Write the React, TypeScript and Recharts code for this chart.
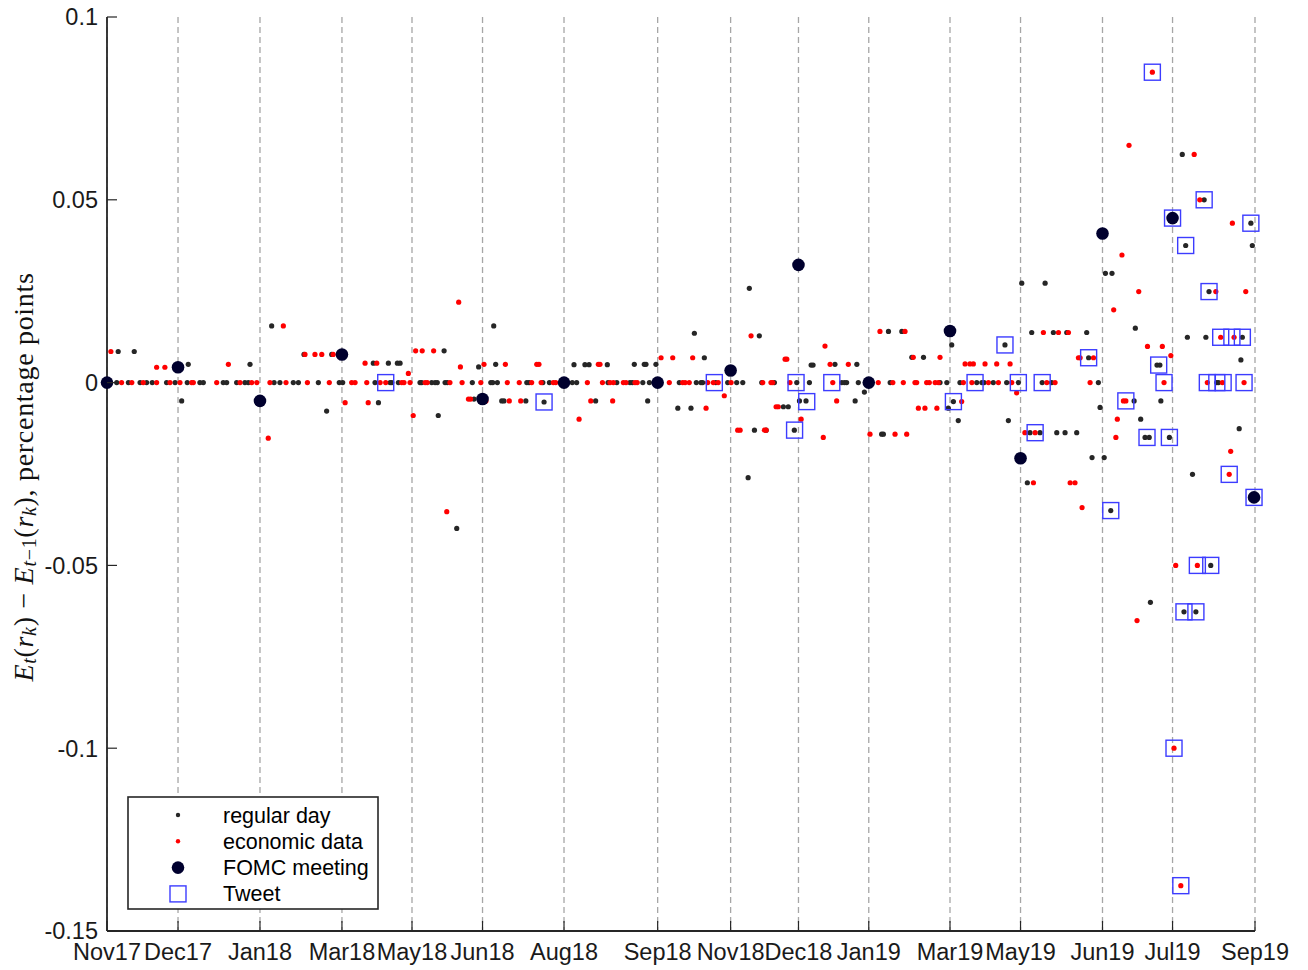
import React from "react";
import { ScatterChart, Scatter, XAxis, YAxis, CartesianGrid } from "recharts";

// x = trading-day index since the Nov 2017 FOMC meeting
const tickDays = [0, 29.2, 62.9, 96.6, 125.4, 154.4, 187.9, 226.4, 256.4, 284.3, 313.2, 346.6, 375.6, 409.3, 438.1, 472];
const tickLabels = ["Nov17", "Dec17", "Jan18", "Mar18", "May18", "Jun18", "Aug18", "Sep18", "Nov18", "Dec18", "Jan19", "Mar19", "May19", "Jun19", "Jul19", "Sep19"];
const yTicks = [-0.15, -0.1, -0.05, 0, 0.05, 0.1];

// regular days with no change
const regularFlatDays = [
  4.0, 8.8, 13.6, 16.3, 18.6, 24.5, 28, 33, 38.2, 39.6, 47.8, 49.2, 53.3, 56.7, 58.1, 68.7, 71.1, 76.6, 78.7, 86.9, 95.5, 96.9,
  110.2, 116.4, 117.1, 119.8, 128.7, 129.4, 133.5, 134.9, 135.8, 139, 139.9, 150.2, 157.8, 158.6, 160.5, 172.6, 173.5, 179.2, 181.9, 191.3, 193.1, 206,
  209.6, 215, 216, 220.3, 223, 235.3, 242.3, 244.2, 244.9, 250.3, 255.2, 258.9, 261.4, 269.2, 274.4, 283.6, 288.8, 302.1, 303.2, 304.1, 308.9, 322,
  342.5, 345.3, 350.7, 357.6, 359.7, 360.6, 364.4, 369.9, 374.7, 384.5, 388.4, 407.6, 456.3, 457,
];

// regular days with a change [day, change]
const regularMoves: [number, number][] = [
  [4.6, 0.0085], [11.2, 0.0085], [33.4, 0.005], [30.7, -0.005], [58.8, 0.005], [67.7, 0.0155], [81, 0.0077], [92.4, 0.0077], [90.3, -0.0078],
  [109.5, 0.0053], [115.7, 0.0053], [119.4, 0.0053], [120.5, 0.0053], [111.6, -0.0055], [138.6, 0.0087], [136.2, -0.009], [143.8, -0.0399],
  [159, 0.0155], [152.8, 0.0043], [159.8, 0.005], [150.9, -0.0045], [162.3, -0.005], [163.2, -0.005], [172.2, -0.005], [179.7, -0.0053],
  [192, 0.0049], [196.5, 0.0049], [198.2, 0.0049], [205.7, 0.0049], [200.9, -0.005],
  [216.8, 0.005], [220.9, 0.005], [221.6, 0.005], [225.7, 0.005], [245.6, 0.0068], [241.5, 0.0135], [222.3, -0.005], [234.7, -0.007], [240.1, -0.007],
  [268.2, 0.0128], [266.2, -0.013], [271, -0.013], [278.1, -0.0066], [280.1, -0.0066], [284.7, -0.005], [287.4, -0.005], [282.6, -0.013],
  [289.5, 0.0048], [290.3, 0.0048], [299.3, 0.005], [308.3, 0.005], [307.6, -0.005],
  [264.1, 0.0258], [321.3, 0.014], [326.8, 0.014], [330.9, 0.0069], [335.7, 0.0069], [311.4, -0.0026], [318.5, -0.0141], [319.2, -0.0141], [263.6, -0.026],
  [347.3, 0.0103], [369.2, 0.0103], [376.1, 0.0272], [385.7, 0.0272], [380.2, 0.0137], [389.1, 0.0137], [394.6, 0.0137], [402.8, 0.0137], [403.6, 0.0068],
  [348, -0.0052], [345.9, -0.007], [350, -0.0104], [370.6, -0.0104], [408.3, -0.0068], [379.5, -0.0137], [383.6, -0.0137], [390.5, -0.0137],
  [393.9, -0.0137], [398.7, -0.0137], [378.4, -0.0274], [405, -0.0205],
  [410.5, 0.0299], [413.2, 0.0299], [451.1, 0.05], [470.3, 0.0436], [470.9, 0.0375], [443.5, 0.0375], [453.1, 0.0249], [422.8, 0.0149],
  [444.2, 0.0124], [451.8, 0.0124], [466.8, 0.0124], [466.2, 0.0062], [431.7, 0.0048], [432.9, 0.0048],
  [422.3, -0.005], [433.3, -0.005], [425, -0.01], [426.8, -0.015], [428.5, -0.015], [436.8, -0.015], [465.5, -0.0126], [410, -0.0205],
  [446.3, -0.0251], [412.7, -0.035], [442.1, 0.0624], [453.8, -0.05], [429, -0.0601], [442.8, -0.0627], [447.7, -0.0627],
];

// economic-data days with no change
const econFlatDays = [
  6, 10.2, 14.9, 20.4, 25.9, 30, 34.8, 35.5, 45.1, 54.7, 59.5, 61.6, 67, 73.6, 82.4, 91.4, 100.6, 102,
  106.8, 112.3, 114.6, 121.2, 122.1, 124.6, 130.8, 131.7, 141, 146, 153.7, 164.6, 169.5, 174.6, 178.5, 183.5, 184.5, 197.5, 203.7,
  206.8, 208.2, 212.3, 213.4, 217.1, 218, 231.2, 236.7, 237.7, 239.4, 247, 249.3, 251.3, 256.6, 269.6, 273, 273.7, 280.8, 298.4,
  317.1, 323.1, 327.4, 332.2, 332.9, 337, 338.1, 340.5, 341.8, 352.1, 355.6, 362.4, 366.5, 372, 386.4, 389.8, 404.2, 434.6, 452.4, 458.6, 467.5,
];

// economic-data days with a change [day, change]
const econMoves: [number, number][] = [
  [1.6, 0.0085], [20.4, 0.0042], [23.8, 0.0042], [49.9, 0.005], [72.5, 0.0155], [66.3, -0.0152], [81.4, 0.0077], [85.5, 0.0077], [88.3, 0.0077],
  [93, 0.0077], [97.9, -0.0055],
  [106.1, 0.0053], [110.9, 0.0053], [123.9, 0.0025], [107.4, -0.0055], [125.9, -0.009], [126.9, 0.0087], [129.6, 0.0087], [134.3, 0.0087],
  [144.6, 0.022], [139.7, -0.0353], [145.3, 0.0043], [155, 0.005], [163.8, 0.005], [176.7, 0.005], [177.6, 0.005], [148.6, -0.0045],
  [149.5, -0.0045], [155.8, -0.005], [165.4, -0.005], [170.1, -0.005], [202, 0.005], [202.7, 0.005], [198.9, -0.005], [194.1, -0.01],
  [227.8, 0.0068], [232.6, 0.0068], [240.8, 0.0068], [207.9, -0.005], [246.3, -0.007], [253.8, -0.0036], [264.8, 0.0128], [259.3, -0.013],
  [260.3, -0.013], [270.3, -0.013], [271, -0.013], [278.8, 0.0064], [279.5, 0.0064], [275.1, -0.0066], [276, -0.0066], [285.4, -0.01],
  [297.3, 0.005], [304.8, 0.005], [295.2, 0.01], [300, -0.005], [294.5, -0.015],
  [317.8, 0.014], [328.1, 0.014], [331.5, 0.0069], [342.5, 0.0069], [333.6, -0.007], [336.3, -0.007], [341.2, -0.007], [313.7, -0.0141],
  [324, -0.0141], [328.8, -0.0141],
  [352.8, 0.0051], [354.8, 0.0051], [356.2, 0.0051], [361, 0.0051], [365.8, 0.0051], [371.3, 0.0051], [385, 0.0137], [391.2, 0.0137],
  [395.3, 0.0137], [399.4, 0.0068], [400.1, 0.0068], [405.6, 0.0068], [351.4, -0.0052], [374, -0.0028], [377.4, -0.0137], [381.6, -0.0137],
  [380.9, -0.0274], [396, -0.0274], [398, -0.0274], [400.9, -0.0342],
  [449.3, 0.05], [462.7, 0.0436], [417.3, 0.0349], [424.2, 0.0249], [413.9, 0.0199], [455.9, 0.0249], [468.2, 0.0249], [457.9, 0.0124],
  [463.4, 0.0124], [427.8, 0.0099], [433.9, 0.0099], [437.4, 0.0074],
  [417.9, -0.005], [418.9, -0.005], [415.4, -0.01], [414.8, -0.015], [462, -0.0188], [461.4, -0.0251],
  [429.8, 0.0849], [420.2, 0.0649], [447, 0.0624],
  [439.4, -0.05], [448.3, -0.05], [423.5, -0.0651], [438.7, -0.1], [441.5, -0.1376],
];

// FOMC meeting days [day, change]
const fomcMoves: [number, number][] = [
  [0, 0], [29.2, 0.0042], [62.9, -0.005], [96.6, 0.0077], [154.4, -0.0045], [187.9, 0], [226.4, 0], [256.4, 0.0033],
  [284.3, 0.0322], [313.2, 0], [346.6, 0.0141], [375.6, -0.0207], [409.3, 0.0408], [438.1, 0.045], [471.6, -0.0314],
];

// Tweet days [day, change]
const tweetMoves: [number, number][] = [
  [114.6, 0], [179.7, -0.0053], [249.7, 0], [283.3, 0], [287.7, -0.0052], [282.7, -0.013], [298, 0], [348, -0.0052], [356.9, 0],
  [369.2, 0.0103], [374.7, 0], [384.5, 0], [381.6, -0.0137], [403.6, 0.0068], [412.7, -0.035], [418.9, -0.005], [429.8, 0.0849],
  [432.4, 0.0048], [427.6, -0.015], [436.8, -0.015], [434.6, 0], [438.1, 0.045], [443.5, 0.0375], [451.1, 0.05], [453.1, 0.0249],
  [457.9, 0.0124], [462.5, 0.0124], [466.8, 0.0124], [452.4, 0], [456.3, 0], [458.9, 0], [467.5, 0], [461.4, -0.0251], [471.6, -0.0314],
  [470.3, 0.0436], [448.3, -0.05], [453.8, -0.05], [442.8, -0.0627], [447.7, -0.0627], [438.7, -0.1], [441.5, -0.1376],
];

const toPts = (arr: [number, number][]) => arr.map(([x, y]) => ({ x, y }));
const flatPts = (days: number[]) => days.map((x) => ({ x, y: 0 }));

const regularData = [...flatPts(regularFlatDays), ...toPts(regularMoves)];
const econData = [...flatPts(econFlatDays), ...toPts(econMoves)];
const fomcData = toPts(fomcMoves);
const tweetData = toPts(tweetMoves);

const AX = "#262626";
const SANS = "'Liberation Sans', Arial, Helvetica, sans-serif";
const SERIF = "'Liberation Serif', 'DejaVu Serif', 'Times New Roman', serif";
const GREY_DOT = "#262626";
const RED = "#ff0000";
const NAVY = "#00002e";
const BLUE = "#3c3cff";
const TICK_FS = 23.5;
const Y_MARGIN = 9;
const X_MARGIN = 12;
const TICK_LEN = 10;

const labelFor = (v: number) => {
  const i = tickDays.indexOf(v);
  return i >= 0 ? tickLabels[i] : "";
};

const LeftTick = (p: any) => {
  const axisX = p.x + Y_MARGIN;
  const v = p.payload.value;
  return (
    <g>
      <line x1={axisX} x2={axisX + TICK_LEN} y1={p.y} y2={p.y} stroke={AX} strokeWidth={1.2} />
      <text x={p.x} y={p.y} dy="0.355em" textAnchor="end" fontFamily={SANS} fontSize={TICK_FS} fill="#1a1a1a">
        {v === 0 ? "0" : String(v)}
      </text>
    </g>
  );
};

const BottomTick = (p: any) => {
  const axisY = p.y - X_MARGIN;
  return (
    <g>
      <line x1={p.x} x2={p.x} y1={axisY} y2={axisY - TICK_LEN} stroke={AX} strokeWidth={1.2} />
      <text x={p.x} y={p.y} dy="0.71em" textAnchor="middle" fontFamily={SANS} fontSize={TICK_FS} fill="#1a1a1a">
        {labelFor(p.payload.value)}
      </text>
    </g>
  );
};

const TopTick = (p: any) => (
  <line x1={p.x} x2={p.x} y1={p.y} y2={p.y + TICK_LEN} stroke={AX} strokeWidth={1.2} />
);

const RightTick = (p: any) => (
  <line x1={p.x} x2={p.x - TICK_LEN} y1={p.y} y2={p.y} stroke={AX} strokeWidth={1.2} />
);

const YLabel = (p: any) => {
  const vb = p.viewBox || { x: 39, y: 9, width: 60, height: 914 };
  const cx = vb.x - 24;
  const cy = vb.y + vb.height / 2 + 3;
  const sub = 20;
  return (
    <text
      x={cx}
      y={cy}
      transform={`rotate(-90 ${cx} ${cy})`}
      textAnchor="middle"
      dominantBaseline="central"
      fontFamily={SERIF}
      fontSize={28}
      letterSpacing={0.7}
      fill="#111"
    >
      <tspan fontStyle="italic">E</tspan>
      <tspan fontStyle="italic" fontSize={sub} dy={6}>t</tspan>
      <tspan dy={-6}>(</tspan>
      <tspan fontStyle="italic">r</tspan>
      <tspan fontStyle="italic" fontSize={sub} dy={6}>k</tspan>
      <tspan dy={-6}>{") \u2212 "}</tspan>
      <tspan fontStyle="italic">E</tspan>
      <tspan fontSize={sub} dy={6}>
        <tspan fontStyle="italic">t</tspan>
        {"\u22121"}
      </tspan>
      <tspan dy={-6}>(</tspan>
      <tspan fontStyle="italic">r</tspan>
      <tspan fontStyle="italic" fontSize={sub} dy={6}>k</tspan>
      <tspan dy={-6}>), percentage points</tspan>
    </text>
  );
};

const RegularShape = (p: any) => <circle cx={p.cx} cy={p.cy} r={2.6} fill={GREY_DOT} />;
const EconShape = (p: any) => <circle cx={p.cx} cy={p.cy} r={2.6} fill={RED} />;
const FomcShape = (p: any) => <circle cx={p.cx} cy={p.cy} r={6.3} fill={NAVY} />;
const TweetShape = (p: any) => (
  <rect x={p.cx - 8} y={p.cy - 8} width={16} height={16} fill="none" stroke={BLUE} strokeWidth={1.4} />
);

const LegendBox = () => {
  const rows = [
    { label: "regular day", kind: "reg" },
    { label: "economic data", kind: "econ" },
    { label: "FOMC meeting", kind: "fomc" },
    { label: "Tweet", kind: "tweet" },
  ];
  return (
    <svg width={252} height={114} style={{ position: "absolute", left: 119, top: 788 }}>
      <rect x={1} y={1} width={250} height={112} fill="#fff" stroke={AX} strokeWidth={1.6} />
      {rows.map((r, i) => {
        const cy = 19 + i * 26.3;
        const mx = 51;
        return (
          <g key={r.label}>
            {r.kind === "reg" && <circle cx={mx} cy={cy} r={2.2} fill={GREY_DOT} />}
            {r.kind === "econ" && <circle cx={mx} cy={cy} r={2.2} fill={RED} />}
            {r.kind === "fomc" && <circle cx={mx} cy={cy} r={6.3} fill={NAVY} />}
            {r.kind === "tweet" && (
              <rect x={mx - 8} y={cy - 8} width={16} height={16} fill="none" stroke={BLUE} strokeWidth={1.4} />
            )}
            <text x={96} y={cy} dy="0.35em" fontFamily={SANS} fontSize={21.5} fill="#000">
              {r.label}
            </text>
          </g>
        );
      })}
    </svg>
  );
};

export default function App() {
  return (
    <div style={{ position: "relative", width: 1300, height: 962, background: "#fff" }}>
      <ScatterChart width={1300} height={962} margin={{ top: 9, right: 53, left: 39, bottom: 0 }}>
        <CartesianGrid horizontal={false} vertical stroke="#a6a6a6" strokeWidth={1.3} strokeDasharray="6 4" />
        <XAxis
          dataKey="x"
          type="number"
          domain={[0, 472]}
          ticks={tickDays}
          interval={0}
          tickSize={0}
          tickMargin={X_MARGIN}
          tickLine={false}
          height={39}
          axisLine={{ stroke: AX, strokeWidth: 1.8 }}
          tick={(p: any) => <BottomTick {...p} />}
        />
        <XAxis
          xAxisId="top"
          dataKey="x"
          orientation="top"
          type="number"
          domain={[0, 472]}
          ticks={tickDays}
          interval={0}
          tickSize={0}
          tickMargin={0}
          tickLine={false}
          height={0}
          axisLine={{ stroke: AX, strokeWidth: 1.8 }}
          tick={(p: any) => <TopTick {...p} />}
        />
        <YAxis
          dataKey="y"
          type="number"
          domain={[-0.15, 0.1]}
          ticks={yTicks}
          interval={0}
          tickSize={0}
          tickMargin={Y_MARGIN}
          tickLine={false}
          width={60}
          axisLine={{ stroke: AX, strokeWidth: 1.8 }}
          tick={(p: any) => <LeftTick {...p} />}
          label={{ content: (p: any) => <YLabel {...p} /> }}
        />
        <YAxis
          yAxisId="right"
          dataKey="y"
          orientation="right"
          type="number"
          domain={[-0.15, 0.1]}
          ticks={yTicks}
          interval={0}
          tickSize={0}
          tickMargin={0}
          tickLine={false}
          width={0}
          axisLine={{ stroke: AX, strokeWidth: 1.8 }}
          tick={(p: any) => <RightTick {...p} />}
        />
        <Scatter name="regular day" data={regularData} shape={RegularShape} isAnimationActive={false} />
        <Scatter name="economic data" data={econData} shape={EconShape} isAnimationActive={false} />
        <Scatter name="FOMC meeting" data={fomcData} shape={FomcShape} isAnimationActive={false} />
        <Scatter
          name="Tweet"
          data={tweetData}
          xAxisId="top"
          yAxisId="right"
          shape={TweetShape}
          isAnimationActive={false}
        />
      </ScatterChart>
      <LegendBox />
    </div>
  );
}
